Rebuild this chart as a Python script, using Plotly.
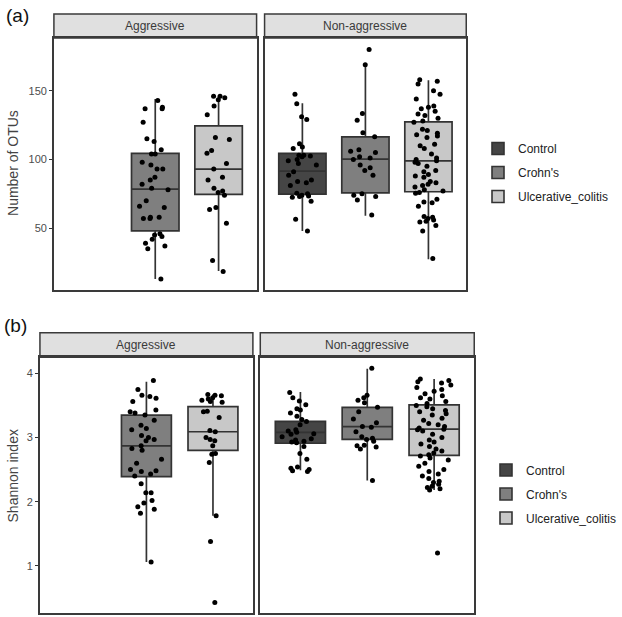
import plotly.graph_objects as go

# ---------------- data ----------------
groups = ["Control", "Crohn's", "Ulcerative_colitis"]
facets = ["Aggressive", "Non-aggressive"]

# (a) Number of OTUs - sample points
otu_agg_crohns = [143, 138, 137, 137, 127, 115, 113, 107, 104, 104, 98, 96, 93, 93, 87, 85,
                  82, 79, 78, 70, 66, 65, 58, 57, 58, 57, 46, 45, 44, 42, 39, 37, 35, 13]
otu_agg_uc = [146, 146, 145, 143.5, 139, 132.5, 116, 114.5, 106.5, 104.5, 97, 93, 87, 85,
              79, 77, 76, 74, 65, 63.5, 53.5, 26.5, 18.5]
otu_non_control = [147.5, 140.5, 131, 129, 111.5, 109, 108, 103, 103, 102.5, 102, 100, 99,
                   97, 96, 91, 88.5, 85, 84, 83, 81, 75.5, 75, 74, 73.5, 73, 72.5, 69.5,
                   56.5, 48]
otu_non_crohns = [180, 169, 133.5, 128.5, 119.5, 116.5, 107, 106, 105, 102, 101, 100, 96,
                  94, 92, 88.5, 75, 74, 73, 70.5, 59.5]
otu_non_uc = [158, 157, 155, 150, 147.5, 144, 139, 138, 137, 135, 133, 132, 130, 128, 127,
              122, 121, 119, 118, 117, 116, 111, 110, 108, 104, 101, 100, 99, 98, 97, 95,
              92, 91, 89, 88, 87, 84, 83, 82, 81, 80, 78, 77, 76, 75.5, 71, 69, 68.5, 66,
              58.5, 58, 57, 56, 55, 54.5, 52, 48, 28]

# (a) box statistics: [lower whisker, q1, median, q3, upper whisker]
otu_stats_agg_crohns = [13, 48, 78.4, 104.4, 144]
otu_stats_agg_uc = [18.8, 74.6, 93, 124.4, 145.5]
otu_stats_non_control = [48, 74.8, 91.5, 104.4, 141]
otu_stats_non_crohns = [59, 75.7, 100.2, 116.4, 168.5]
otu_stats_non_uc = [27.3, 76.5, 99, 127.3, 157.6]

# (b) Shannon index - sample points
sh_agg_crohns = [3.89, 3.75, 3.66, 3.64, 3.61, 3.56, 3.43, 3.40, 3.38, 3.35, 3.27, 3.19,
                 3.14, 3.12, 3.03, 3.00, 2.97, 2.95, 2.87, 2.83, 2.80, 2.66, 2.60, 2.50,
                 2.48, 2.47, 2.43, 2.40, 2.28, 2.14, 2.14, 2.02, 1.98, 1.92, 1.88, 1.82, 1.06]
sh_agg_uc = [3.67, 3.66, 3.65, 3.62, 3.60, 3.58, 3.56, 3.55, 3.41, 3.40, 3.31, 3.11, 3.09,
             3.00, 2.97, 2.95, 2.87, 2.75, 2.74, 2.61, 1.78, 1.38, 0.43]
sh_non_control = [3.70, 3.62, 3.57, 3.51, 3.45, 3.43, 3.38, 3.33, 3.28, 3.25, 3.20, 3.12,
                  3.10, 3.08, 3.06, 3.05, 3.01, 2.98, 2.96, 2.94, 2.93, 2.92, 2.86, 2.75,
                  2.66, 2.54, 2.52, 2.50, 2.48, 2.47]
sh_non_crohns = [4.08, 3.66, 3.62, 3.58, 3.54, 3.47, 3.40, 3.29, 3.23, 3.17, 3.16, 3.09,
                 3.01, 2.99, 2.97, 2.94, 2.88, 2.87, 2.85, 2.82, 2.33]
sh_non_uc = [3.91, 3.89, 3.87, 3.85, 3.82, 3.78, 3.75, 3.72, 3.68, 3.65, 3.62, 3.60, 3.56,
             3.53, 3.50, 3.48, 3.45, 3.42, 3.40, 3.37, 3.35, 3.30, 3.27, 3.22, 3.20, 3.17,
             3.15, 3.13, 3.12, 3.10, 3.05, 3.00, 2.96, 2.93, 2.90, 2.86, 2.82, 2.79, 2.76,
             2.73, 2.71, 2.68, 2.65, 2.60, 2.55, 2.50, 2.47, 2.43, 2.40, 2.36, 2.32, 2.30,
             2.27, 2.24, 2.22, 2.20, 2.18, 1.20]

sh_stats_agg_crohns = [1.06, 2.39, 2.87, 3.35, 3.87]
sh_stats_agg_uc = [1.78, 2.80, 3.09, 3.48, 3.67]
sh_stats_non_control = [2.49, 2.91, 3.08, 3.25, 3.71]
sh_stats_non_crohns = [2.33, 2.97, 3.17, 3.47, 4.07]
sh_stats_non_uc = [2.18, 2.72, 3.13, 3.51, 3.91]

otu_ticks = [50, 100, 150]
sh_ticks = [1, 2, 3, 4]

# ---------------- styling ----------------
W, H = 622, 617
FILL = {"Control": "#454545", "Crohn's": "#7f7f7f", "Ulcerative_colitis": "#c8c8c8"}
EDGE = "#333333"
FONT = "Liberation Sans, Arial, sans-serif"

def px_x(p):
    return p / W

def px_y(p):
    return 1 - p / H

# panel geometry (pixels): (x0, x1, y_top, y_bottom, strip_top)
panels = {
    ("a", 0): (54, 257, 38, 290, 14),
    ("a", 1): (265, 467, 38, 290, 14),
    ("b", 0): (40, 253.3, 357.3, 613.3, 332.7),
    ("b", 1): (260.7, 475, 357.3, 613.3, 332.7),
}
axis_ids = {("a", 0): 1, ("a", 1): 2, ("b", 0): 3, ("b", 1): 4}

rows = {
    "a": {
        "data": {0: {"Crohn's": (otu_agg_crohns, otu_stats_agg_crohns),
                     "Ulcerative_colitis": (otu_agg_uc, otu_stats_agg_uc)},
                 1: {"Control": (otu_non_control, otu_stats_non_control),
                     "Crohn's": (otu_non_crohns, otu_stats_non_crohns),
                     "Ulcerative_colitis": (otu_non_uc, otu_stats_non_uc)}},
        "range": [5, 188.4], "ticks": otu_ticks, "title": "Number of OTUs",
        "legend": "legend",
    },
    "b": {
        "data": {0: {"Crohn's": (sh_agg_crohns, sh_stats_agg_crohns),
                     "Ulcerative_colitis": (sh_agg_uc, sh_stats_agg_uc)},
                 1: {"Control": (sh_non_control, sh_stats_non_control),
                     "Crohn's": (sh_non_crohns, sh_stats_non_crohns),
                     "Ulcerative_colitis": (sh_non_uc, sh_stats_non_uc)}},
        "range": [0.26, 4.25], "ticks": sh_ticks, "title": "Shannon index",
        "legend": "legend2",
    },
}

fig = go.Figure()

box_traces = []
point_traces = []
for r, info in rows.items():
    for f in (0, 1):
        n = axis_ids[(r, f)]
        xa = "x" if n == 1 else f"x{n}"
        ya = "y" if n == 1 else f"y{n}"
        for g in groups:
            if g not in info["data"][f]:
                continue
            pts, st = info["data"][f][g]
            box_traces.append(go.Box(
                x=[g], lowerfence=[st[0]], q1=[st[1]], median=[st[2]], q3=[st[3]],
                upperfence=[st[4]], name=g, fillcolor=FILL[g],
                line=dict(color=EDGE, width=1.7), whiskerwidth=0, width=0.75,
                boxpoints=False, xaxis=xa, yaxis=ya, legend=info["legend"],
                legendgroup=r + g, showlegend=False, hoverinfo="skip"))
            point_traces.append(go.Box(
                x=[g] * len(pts), y=pts, name=g, boxpoints="all", jitter=0.75,
                pointpos=0, width=0.75, fillcolor="rgba(0,0,0,0)",
                line=dict(color="rgba(0,0,0,0)", width=0), whiskerwidth=0,
                marker=dict(color="black", size=5, line=dict(width=0)), xaxis=xa, yaxis=ya,
                showlegend=False, legend=info["legend"]))

for t in box_traces + point_traces:
    fig.add_trace(t)

# legend entries (dummy boxes placed outside the visible range)
for r, info in rows.items():
    for g in groups:
        fig.add_trace(go.Box(
            x=[g], lowerfence=[-1e6], q1=[-1e6], median=[-1e6], q3=[-1e6], upperfence=[-1e6],
            name=g, fillcolor=FILL[g], line=dict(color=EDGE, width=1.6),
            xaxis="x" if r == "a" else "x3", yaxis="y" if r == "a" else "y3",
            legend=info["legend"], legendgroup=r + g, showlegend=True, hoverinfo="skip"))

shapes = []
annotations = []
layout_axes = {}
for (r, f), (x0, x1, yt, yb, st) in panels.items():
    n = axis_ids[(r, f)]
    sx = "" if n == 1 else str(n)
    info = rows[r]
    layout_axes[f"xaxis{sx}"] = dict(
        domain=[px_x(x0), px_x(x1)], anchor=f"y{sx}", type="category",
        categoryorder="array", categoryarray=groups, range=[-0.6, 2.6],
        showticklabels=False, ticks="", showgrid=False, zeroline=False,
        showline=True, mirror=True, linecolor="#3a3a3a", linewidth=1.5)
    ya = dict(
        domain=[px_y(yb), px_y(yt)], anchor=f"x{sx}", range=info["range"],
        tickvals=info["ticks"], showgrid=False, zeroline=False,
        showline=True, mirror=True, linecolor="#3a3a3a", linewidth=1.5)
    if f == 0:
        ya.update(ticks="outside", ticklen=3, tickwidth=1, tickcolor="#333",
                  color="#4d4d4d",
                  tickfont=dict(family=FONT, size=11, color="#4d4d4d"))
    else:
        ya.update(showticklabels=False, ticks="")
    layout_axes[f"yaxis{sx}"] = ya
    # strip
    shapes.append(dict(type="rect", xref="paper", yref="paper",
                       x0=px_x(x0), x1=px_x(x1), y0=px_y(yt), y1=px_y(st),
                       fillcolor="#e0e0e0", line=dict(color="#3a3a3a", width=1.5),
                       layer="below"))
    annotations.append(dict(text=facets[f], xref="paper", yref="paper",
                            x=px_x((x0 + x1) / 2), y=px_y((yt + st) / 2),
                            showarrow=False, xanchor="center", yanchor="middle",
                            font=dict(family=FONT, size=12, color="#3a3a3a")))

# axis titles and panel tags
annotations += [
    dict(text="Number of OTUs", xref="paper", yref="paper", x=px_x(13), y=px_y(163),
         xanchor="center", yanchor="middle",
         textangle=-90, showarrow=False, font=dict(family=FONT, size=14, color="#444")),
    dict(text="Shannon index", xref="paper", yref="paper", x=px_x(13), y=px_y(475.5),
         xanchor="center", yanchor="middle",
         textangle=-90, showarrow=False, font=dict(family=FONT, size=14, color="#444")),
    dict(text="(a)", xref="paper", yref="paper", x=px_x(4), y=px_y(15),
         xanchor="left", yanchor="middle", showarrow=False,
         font=dict(family=FONT, size=19, color="#111")),
    dict(text="(b)", xref="paper", yref="paper", x=px_x(2), y=px_y(325),
         xanchor="left", yanchor="middle", showarrow=False,
         font=dict(family=FONT, size=19, color="#111")),
]

legend_style = dict(font=dict(family=FONT, size=12, color="#222"), bgcolor="rgba(0,0,0,0)",
                    xanchor="left", yanchor="top", traceorder="grouped",
                    tracegroupgap=5, itemclick=False)

fig.update_layout(
    template="none",
    width=W, height=H, margin=dict(l=0, r=0, t=0, b=0),
    paper_bgcolor="white", plot_bgcolor="white",
    boxmode="overlay", shapes=shapes, annotations=annotations,
    legend=dict(x=px_x(478), y=px_y(134), **legend_style),
    legend2=dict(x=px_x(487), y=px_y(455.5), **legend_style),
    **layout_axes,
)

fig.write_html("out.html", config={"displayModeBar": False},
               post_script="document.body.style.margin='0px';")
